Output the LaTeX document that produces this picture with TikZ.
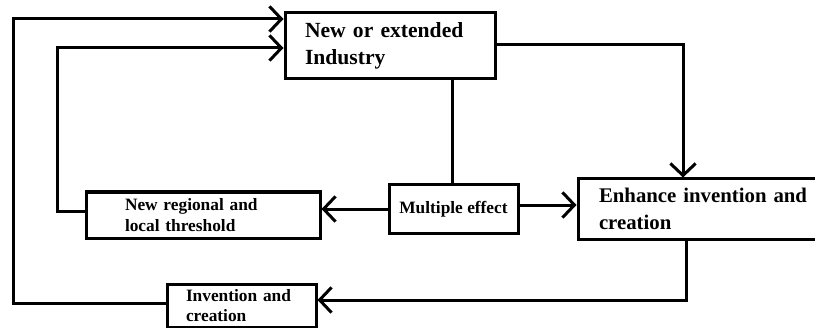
\documentclass[tikz,border=0pt]{standalone}
\usepackage{fontspec}
\setmainfont{Liberation Serif}
\usetikzlibrary{arrows.meta}
\tikzset{
  box/.style={draw, line width=2.25pt, rectangle, inner ysep=0pt, font=\bfseries},
  big/.style={font=\fontsize{16.2}{20.25}\selectfont\bfseries},
  small/.style={font=\fontsize{13}{15.75}\selectfont\bfseries},
  conn/.style={line width=2.25pt},
  arr/.style={line width=2.25pt, -{Straight Barb[length=9pt,width=19pt]}}
}
\begin{document}
\begin{tikzpicture}[x=0.75pt, y=-0.75pt]
\useasboundingbox (0,0) rectangle (815,328);
% boxes
\node[box, big, minimum width=157.5pt, minimum height=49.5pt, inner xsep=15pt, text width=127.5pt, align=left]
  (ind) at (390,46) {New or extended\\Industry};
\node[box, small, minimum width=175.5pt, minimum height=34.5pt, inner xsep=29.25pt, text width=117pt, align=left]
  (thr) at (203,215) {New regional and\\local threshold};
\node[box, small, minimum width=96.75pt, minimum height=36pt, inner xsep=0pt, align=center]
  (mul) at (453.5,209) {Multiple effect};
\node[box, minimum width=204pt, minimum height=45pt, inner xsep=15.75pt, text width=172.5pt, align=left,
  font=\fontsize{15.6}{20}\selectfont\bfseries]
  (enh) at (714,209) {Enhance invention and\\creation};
\node[box, small, minimum width=111.75pt, minimum height=32.25pt, inner xsep=14.25pt, text width=83.25pt, align=left,
  font=\fontsize{13}{15}\selectfont\bfseries]
  (inv) at (241.5,305.5) {Invention and\\creation};
% connectors
\draw[arr] (inv.west |- 0,303) -- (13,303) -- (13,19) -- (ind.west |- 0,19);
\draw[arr] (thr.west |- 0,211) -- (57,211) -- (57,48) -- (ind.west |- 0,48);
\draw[arr] (ind.east |- 0,45) -- (683,45) -- (enh.north -| 683,0);
\draw[conn] (ind.south -| 452,0) -- (mul.north -| 452,0);
\draw[arr] (mul.west |- 0,209) -- (thr.east |- 0,209);
\draw[arr] (mul.east |- 0,205) -- (enh.west |- 0,205);
\draw[arr] (enh.south -| 686,0) -- (686,300) -- (inv.east |- 0,300);
\end{tikzpicture}
\end{document}
